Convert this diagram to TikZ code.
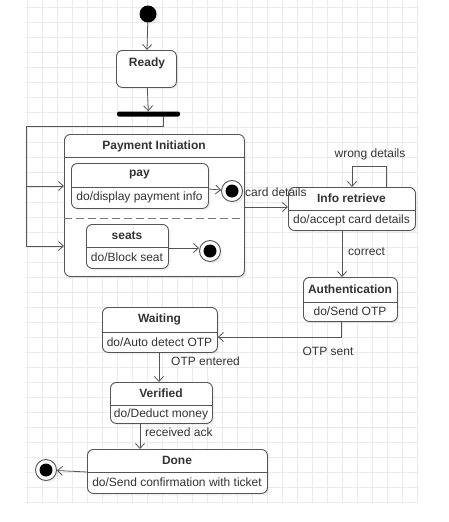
\documentclass[tikz,border=0pt]{standalone}
\usepackage{fontspec}
\setmainfont{Liberation Sans}
\usetikzlibrary{arrows.meta,shadows}
\definecolor{gridc}{HTML}{EBEBEB}
\definecolor{boxc}{HTML}{555555}
\definecolor{arrc}{HTML}{555555}
\definecolor{txtc}{HTML}{333333}
\newcommand\ustate[8]{%
  \node[box, anchor=north west, minimum width={(#4-#2)*1pt}, minimum height={(#5-#3)*1pt}] (#1) at (#2,#3) {};
  \draw[sepline] (#1.west |- 0,#6) -- (#1.east |- 0,#6);
  \node[ttl] (#1-t) at ({(#2+#4)/2},{(#3+#6)/2}) {#7};
  \node[lbl] (#1-b) at ({(#2+#4)/2},{(#6+#5)/2}) {#8};
}
\begin{document}
\begin{tikzpicture}[x=1pt,y=-1pt,
  font=\fontsize{12}{14}\selectfont,
  box/.style={draw=boxc, line width=0.9pt, rounded corners=6pt, fill=white, inner sep=0pt,
    drop shadow={opacity=0.12, shadow xshift=2pt, shadow yshift=-2pt}},
  sepline/.style={draw=boxc, line width=0.9pt},
  ttl/.style={text=txtc, font=\fontsize{12}{14}\selectfont\bfseries, inner sep=0pt},
  lbl/.style={text=txtc, inner sep=0pt},
  arr/.style={draw=arrc, line width=0.8pt, -{Straight Barb[length=5pt,width=9pt]}},
  line/.style={draw=arrc, line width=0.8pt},
  finalo/.style={circle, draw=boxc, line width=0.9pt, fill=white, minimum size=21pt, inner sep=0pt,
    drop shadow={opacity=0.12, shadow xshift=2pt, shadow yshift=-2pt}},
  finali/.style={circle, fill=black, minimum size=13pt, inner sep=0pt},
]
\useasboundingbox (0,0) rectangle (448,522);
% grid
\foreach \i in {0,...,26} \draw[gridc, line width=0.5pt] (27+15*\i,0) -- (27+15*\i,503);
\foreach \j in {0,...,33} \draw[gridc, line width=0.5pt] (25,7+15*\j) -- (418,7+15*\j);

% initial
\node[circle, fill=black, minimum size=17pt, inner sep=0pt,
  drop shadow={opacity=0.12, shadow xshift=2pt, shadow yshift=-2pt}] (init) at (148,14) {};
% ready
\node[box, anchor=north west, minimum width=60pt, minimum height=37pt] (ready) at (116,50) {};
\node[ttl] (ready-t) at (147,63) {Ready};
% fork bar
\node[fill=black, rounded corners=2pt, minimum width=63pt, minimum height=5pt, inner sep=0pt] (fork) at (148.5,114) {};

% composite
\node[box, anchor=north west, minimum width=180pt, minimum height=142pt] (comp) at (64,134) {};
\draw[sepline] (comp.west |- 0,157) -- (comp.east |- 0,157);
\node[ttl] (comp-t) at (154,146) {Payment Initiation};
\draw[draw=boxc!80, line width=1pt, dash pattern=on 8pt off 4pt] (comp.west |- 0,218) -- (comp.east |- 0,218);

\ustate{pay}{71}{163}{208}{208}{187}{pay}{do/display payment info}
\ustate{seats}{86}{224}{168}{268}{247}{seats}{do/Block seat}
\node[finalo] (f1) at (232,191) {}; \node[finali] at (f1) {};
\node[finalo] (f2) at (210,251) {}; \node[finali] at (f2) {};

\ustate{info}{288}{187}{415}{230}{210}{Info retrieve}{do/accept card details}
\ustate{auth}{303}{277}{397}{321}{302}{Authentication}{do/Send OTP}
\ustate{wait}{102}{307}{217}{352}{332}{Waiting}{do/Auto detect OTP}
\ustate{ver}{110}{382}{212}{423}{405}{Verified}{do/Deduct money}
\ustate{done}{87}{449}{267}{493}{472}{Done}{do/Send confirmation with ticket}
\node[finalo] (f3) at (46,470) {}; \node[finali] at (f3) {};

% connectors
\draw[arr] (init) -- (ready);
\draw[arr] (ready) -- (fork);
\coordinate (forkout) at (163,116);
\draw[line] (forkout) -- (163,126) -- (26,126) -- (26,246);
\draw[arr] (26,186) -- (comp.west |- 0,186);
\draw[arr] (26,246) -- (comp.west |- 0,246);
\draw[arr] (pay.east |- 0,189) -- (f1);
\draw[arr] (seats.east |- 0,248) -- (f2.west |- 0,248);
\draw[arr] (comp.east |- 0,207) -- (info.west |- 0,207);
\node[lbl, anchor=west] (lcard) at (245,192) {card details};
\draw[arr] (info.north -| 386,0) -- (386,166) -- (352,166) -- (info.north -| 352,0);
\node[lbl] (lwrong) at (370,154) {wrong details};
\draw[arr] (info.south -| 342,0) -- (auth.north -| 342,0);
\node[lbl, anchor=west] (lcorr) at (348,252) {correct};
\draw[arr] (auth.south -| 341,0) -- (341,337) -- (wait.east |- 0,337);
\node[lbl] (lotp) at (328,351) {OTP sent};
\draw[arr] (wait.south -| 159,0) -- (ver.north -| 159,0);
\node[lbl, anchor=west] (lent) at (171,361) {OTP entered};
\draw[arr] (ver.south -| 140,0) -- (done.north -| 140,0);
\node[lbl, anchor=west] (lack) at (145,432) {received ack};
\draw[arr] (done.west |- 0,472) -- (f3);
\end{tikzpicture}
\end{document}
